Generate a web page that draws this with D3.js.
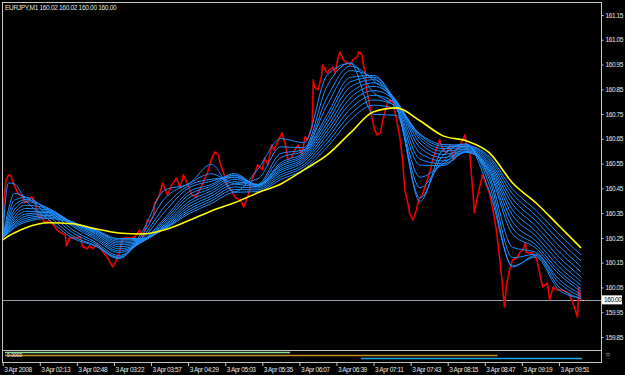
<!DOCTYPE html>
<html>
<head>
<meta charset="utf-8">
<script src="https://cdn.jsdelivr.net/npm/d3@7"></script>
<style>
  html, body { margin: 0; padding: 0; background: #000; }
  svg { display: block; }
  .axis text { fill: #e4e4e4; font-family: 'Liberation Sans', Arial, sans-serif; font-size: 6.5px; letter-spacing: -0.4px; }
  .axis line { stroke: #c8c8c8; }
  .axis path { display: none; }
</style>
</head>
<body>
<div id="chart"></div>
<script>
// close prices, [bar index, price]
const closes = [
  [0,160.254],[1,160.404],[3,160.484],[5,160.505],[7,160.500],[9,160.476],[11,160.452],[13,160.432],[17,160.416],[19,160.392],
  [22,160.400],[25,160.416],[28,160.396],[30,160.351],[31,160.331],[33,160.339],[36,160.315],[41,160.319],[43,160.307],[47,160.282],
  [49,160.274],[54,160.262],[55,160.218],[58,160.250],[62,160.250],[67,160.254],[69,160.214],[73,160.206],[75,160.218],[78,160.206],
  [81,160.226],[84,160.210],[87,160.190],[90,160.174],[93,160.149],[95,160.133],[97,160.149],[99,160.169],[101,160.194],[103,160.242],
  [106,160.250],[110,160.250],[114,160.254],[118,160.282],[121,160.254],[125,160.323],[127,160.315],[130,160.339],[131,160.387],[133,160.404],
  [135,160.420],[138,160.472],[142,160.424],[146,160.464],[150,160.492],[153,160.452],[156,160.505],[160,160.464],[163,160.424],[167,160.416],
  [170,160.444],[174,160.484],[177,160.517],[180,160.565],[183,160.597],[186,160.585],[188,160.545],[191,160.505],[194,160.464],[198,160.436],
  [201,160.412],[205,160.404],[208,160.375],[212,160.424],[215,160.484],[218,160.517],[220,160.545],[224,160.525],[226,160.573],[229,160.545],
  [232,160.626],[234,160.605],[238,160.646],[241,160.674],[244,160.626],[246,160.565],[249,160.573],[252,160.605],[255,160.626],[258,160.585],
  [261,160.658],[263,160.646],[267,160.698],[268,160.888],[269,160.860],[272,160.848],[275,160.900],[276,160.949],[280,160.916],[282,160.928],
  [285,160.941],[287,160.916],[289,160.969],[291,161.001],[294,160.969],[297,160.957],[300,160.949],[302,160.969],[306,160.981],[307,161.001],
  [310,160.989],[311,160.957],[313,160.916],[314,160.848],[317,160.779],[319,160.727],[321,160.686],[323,160.666],[326,160.674],[328,160.727],
  [332,160.795],[334,160.807],[337,160.795],[338,160.767],[340,160.727],[343,160.646],[345,160.565],[347,160.444],[350,160.383],[351,160.351],
  [354,160.323],[357,160.363],[359,160.404],[362,160.424],[365,160.464],[369,160.525],[371,160.565],[374,160.605],[377,160.646],[380,160.605],
  [383,160.593],[386,160.626],[389,160.565],[391,160.605],[395,160.626],[397,160.646],[399,160.666],[401,160.605],[403,160.597],[406,160.416],
  [407,160.351],[409,160.404],[412,160.464],[414,160.505],[418,160.456],[420,160.432],[423,160.363],[426,160.282],[429,160.161],[431,160.069],
  [433,159.972],[435,160.069],[438,160.133],[440,160.161],[444,160.169],[446,160.190],[449,160.202],[451,160.230],[452,160.190],[457,160.190],
  [461,160.161],[464,160.093],[466,160.052],[470,160.069],[472,160.000],[475,160.052],[478,160.040],[483,160.040],[488,160.028],[491,160.000],
  [494,159.960],[496,159.931],[497,160.052],[499,160.000]
];

// bars where the averages were read
const maBars = [0,5,10,20,40,60,80,100,120,140,160,180,200,220,240,260,280,300,320,340,360,380,400,420,440,460,480,499];

// blue ribbon, fastest to slowest
const ribbon = [
  [160.250,160.472,160.468,160.401,160.323,160.250,160.217,160.173,160.272,160.444,160.467,160.547,160.436,160.527,160.651,160.634,160.908,160.955,160.749,160.745,160.397,160.606,160.629,160.438,160.137,160.173,160.040,160.006],
  [160.250,160.365,160.430,160.414,160.338,160.259,160.219,160.166,160.260,160.410,160.467,160.509,160.470,160.488,160.618,160.614,160.864,160.956,160.837,160.769,160.411,160.584,160.629,160.463,160.133,160.179,160.052,160.006],
  [160.250,160.342,160.402,160.414,160.352,160.272,160.226,160.170,160.249,160.378,160.460,160.487,160.494,160.467,160.591,160.606,160.818,160.944,160.885,160.776,160.453,160.560,160.620,160.485,160.170,160.184,160.069,160.013],
  [160.250,160.326,160.382,160.405,160.361,160.284,160.233,160.179,160.242,160.357,160.450,160.479,160.502,160.464,160.574,160.602,160.786,160.925,160.896,160.778,160.495,160.549,160.610,160.499,160.212,160.192,160.083,160.022],
  [160.250,160.313,160.363,160.396,160.369,160.298,160.244,160.191,160.235,160.331,160.434,160.466,160.510,160.461,160.554,160.595,160.748,160.898,160.906,160.781,160.544,160.542,160.599,160.513,160.265,160.209,160.104,160.035],
  [160.250,160.304,160.349,160.382,160.367,160.304,160.251,160.198,160.234,160.322,160.422,160.459,160.504,160.463,160.546,160.589,160.732,160.880,160.899,160.790,160.568,160.549,160.596,160.520,160.289,160.222,160.117,160.046],
  [160.250,160.296,160.335,160.369,160.363,160.309,160.258,160.206,160.233,160.313,160.409,160.450,160.496,160.464,160.539,160.582,160.715,160.859,160.889,160.797,160.593,160.561,160.596,160.528,160.315,160.238,160.134,160.059],
  [160.250,160.289,160.325,160.357,160.358,160.312,160.265,160.214,160.234,160.305,160.395,160.440,160.487,160.463,160.530,160.574,160.698,160.836,160.876,160.801,160.615,160.574,160.598,160.536,160.341,160.258,160.153,160.075],
  [160.250,160.284,160.316,160.347,160.353,160.314,160.270,160.222,160.236,160.300,160.384,160.430,160.477,160.461,160.523,160.566,160.682,160.815,160.862,160.801,160.633,160.587,160.602,160.544,160.363,160.277,160.173,160.093],
  [160.250,160.280,160.308,160.338,160.347,160.314,160.275,160.229,160.239,160.295,160.373,160.419,160.467,160.457,160.515,160.558,160.667,160.794,160.845,160.797,160.648,160.600,160.608,160.552,160.386,160.298,160.195,160.113],
  [160.250,160.277,160.302,160.329,160.341,160.314,160.279,160.236,160.242,160.291,160.363,160.409,160.456,160.451,160.505,160.547,160.650,160.771,160.826,160.791,160.658,160.611,160.614,160.561,160.407,160.319,160.218,160.134],
  [160.250,160.273,160.296,160.321,160.335,160.313,160.281,160.242,160.245,160.288,160.354,160.399,160.445,160.444,160.496,160.538,160.633,160.749,160.807,160.782,160.666,160.620,160.619,160.570,160.428,160.341,160.241,160.157],
  [160.250,160.270,160.291,160.314,160.329,160.311,160.283,160.247,160.248,160.286,160.346,160.389,160.434,160.437,160.486,160.527,160.617,160.726,160.786,160.771,160.670,160.627,160.624,160.578,160.447,160.362,160.265,160.182]
];

// slow yellow average
const slowMa = [160.242,160.258,160.270,160.291,160.311,160.307,160.287,160.270,160.266,160.283,160.319,160.359,160.392,160.432,160.468,160.525,160.585,160.674,160.759,160.775,160.723,160.662,160.642,160.593,160.472,160.392,160.299,160.210];

const priceLabels = [161.15,161.05,160.95,160.85,160.75,160.65,160.55,160.45,160.35,160.25,160.15,160.05,159.95,159.85];
const timeBars = [0,32,64,96,128,160,192,224,256,288,320,352,384,416,448,480];
const timeLabels = ['3 Apr 2008','3 Apr 02:13','3 Apr 02:48','3 Apr 03:22','3 Apr 03:57','3 Apr 04:29','3 Apr 05:03','3 Apr 05:35',
  '3 Apr 06:07','3 Apr 06:39','3 Apr 07:11','3 Apr 07:43','3 Apr 08:15','3 Apr 08:47','3 Apr 09:19','3 Apr 09:51'];

// lower window: [from bar, to bar] per line, and its level
const subSpans = [[2,248],[2,427],[309,500]];
const subLevels = [3,2,1];
const subColors = ['#8fe08f','#c98a22','#19a6e8'];

const header = 'EURJPY,M1  160.02 160.02 160.00 160.00';
const lastClose = 160.00;

const W = 625, H = 375;
const svg = d3.select('#chart').append('svg').attr('width', W).attr('height', H);
svg.append('rect').attr('width', W).attr('height', H).attr('fill', '#000');

const x = d3.scaleLinear().domain([0, 516]).range([2.7, 600.7]);
const y = d3.scaleLinear().domain([159.85, 161.15]).range([337, 15]);
const ySub = d3.scaleLinear().domain([0, 4]).range([361.5, 349.5]);

svg.append('clipPath').attr('id', 'main-clip')
  .append('rect').attr('x', 3).attr('y', 3).attr('width', 598).attr('height', 347);

const main = svg.append('g').attr('clip-path', 'url(#main-clip)');

// bid line
main.append('line')
  .attr('x1', 2).attr('x2', 601)
  .attr('y1', Math.round(y(lastClose)) + 0.5).attr('y2', Math.round(y(lastClose)) + 0.5)
  .attr('stroke', '#9aa4b0').attr('stroke-width', 1);

// price
const priceLine = d3.line().x(d => x(d[0])).y(d => y(d[1]));
main.append('path')
  .datum(closes)
  .attr('fill', 'none')
  .attr('stroke', '#f00000')
  .attr('stroke-width', 1.6)
  .attr('stroke-linejoin', 'round')
  .attr('d', priceLine);

// ribbon
const maLine = d3.line()
  .x((d, i) => x(maBars[i]))
  .y(d => y(d))
  .curve(d3.curveMonotoneX);

main.selectAll('path.ribbon')
  .data(ribbon)
  .join('path')
  .attr('class', 'ribbon')
  .attr('fill', 'none')
  .attr('stroke', '#1e8fff')
  .attr('stroke-width', 1)
  .attr('d', maLine);

main.append('path')
  .datum(slowMa)
  .attr('fill', 'none')
  .attr('stroke', '#ffff00')
  .attr('stroke-width', 1.6)
  .attr('d', maLine);

// lower window lines
svg.selectAll('line.sub')
  .data(subSpans)
  .join('line')
  .attr('class', 'sub')
  .attr('x1', d => x(d[0])).attr('x2', d => x(d[1]))
  .attr('y1', (d, i) => ySub(subLevels[i])).attr('y2', (d, i) => ySub(subLevels[i]))
  .attr('stroke', (d, i) => subColors[i])
  .attr('stroke-width', 1.5);

svg.append('text')
  .attr('x', 7).attr('y', 356.5)
  .attr('fill', '#f0f0f0')
  .style('font-family', 'Liberation Sans, Arial, sans-serif')
  .style('font-size', '5px')
  .text('0.0000');

// frame
const frame = svg.append('g').attr('stroke', '#c4c4c4').attr('stroke-width', 1);
frame.append('line').attr('x1', 2.5).attr('x2', 2.5).attr('y1', 2).attr('y2', 363);
frame.append('line').attr('x1', 2).attr('x2', 602).attr('y1', 2.5).attr('y2', 2.5);
frame.append('line').attr('x1', 601.5).attr('x2', 601.5).attr('y1', 2).attr('y2', 363);
frame.append('line').attr('x1', 2).attr('x2', 602).attr('y1', 350.5).attr('y2', 350.5);
frame.append('line').attr('x1', 2).attr('x2', 602).attr('y1', 362.5).attr('y2', 362.5);

// axes
const yAxis = d3.axisRight(y).tickValues(priceLabels).tickFormat(d3.format('.2f')).tickSize(2).tickPadding(2);
svg.append('g').attr('class', 'axis').attr('transform', 'translate(601.5,0)').call(yAxis);

const xAxis = d3.axisBottom(x).tickValues(timeBars).tickFormat((d, i) => timeLabels[i]).tickSize(3).tickPadding(1);
const gx = svg.append('g').attr('class', 'axis').attr('transform', 'translate(0,363)').call(xAxis);
gx.selectAll('text').attr('text-anchor', 'start').attr('dx', 1);

// last price tag
const tagY = y(lastClose);
svg.append('rect')
  .attr('x', 602).attr('y', tagY - 4.5).attr('width', 20).attr('height', 9)
  .attr('fill', '#ffffff');
svg.append('text')
  .attr('x', 604).attr('y', tagY + 2.3)
  .attr('fill', '#000')
  .style('font-family', 'Liberation Sans, Arial, sans-serif')
  .style('font-size', '6.5px')
  .style('letter-spacing', '-0.4px')
  .text(d3.format('.2f')(lastClose));

svg.append('text')
  .attr('transform', 'translate(606,353) rotate(90)')
  .attr('fill', '#e4e4e4')
  .style('font-family', 'Liberation Sans, Arial, sans-serif')
  .style('font-size', '5px')
  .text('0');

svg.append('text')
  .attr('x', 5).attr('y', 9.5)
  .attr('fill', '#e4e4e4')
  .style('font-family', 'Liberation Sans, Arial, sans-serif')
  .style('font-size', '6.5px')
  .style('letter-spacing', '-0.3px')
  .text(header);
</script>
</body>
</html>
